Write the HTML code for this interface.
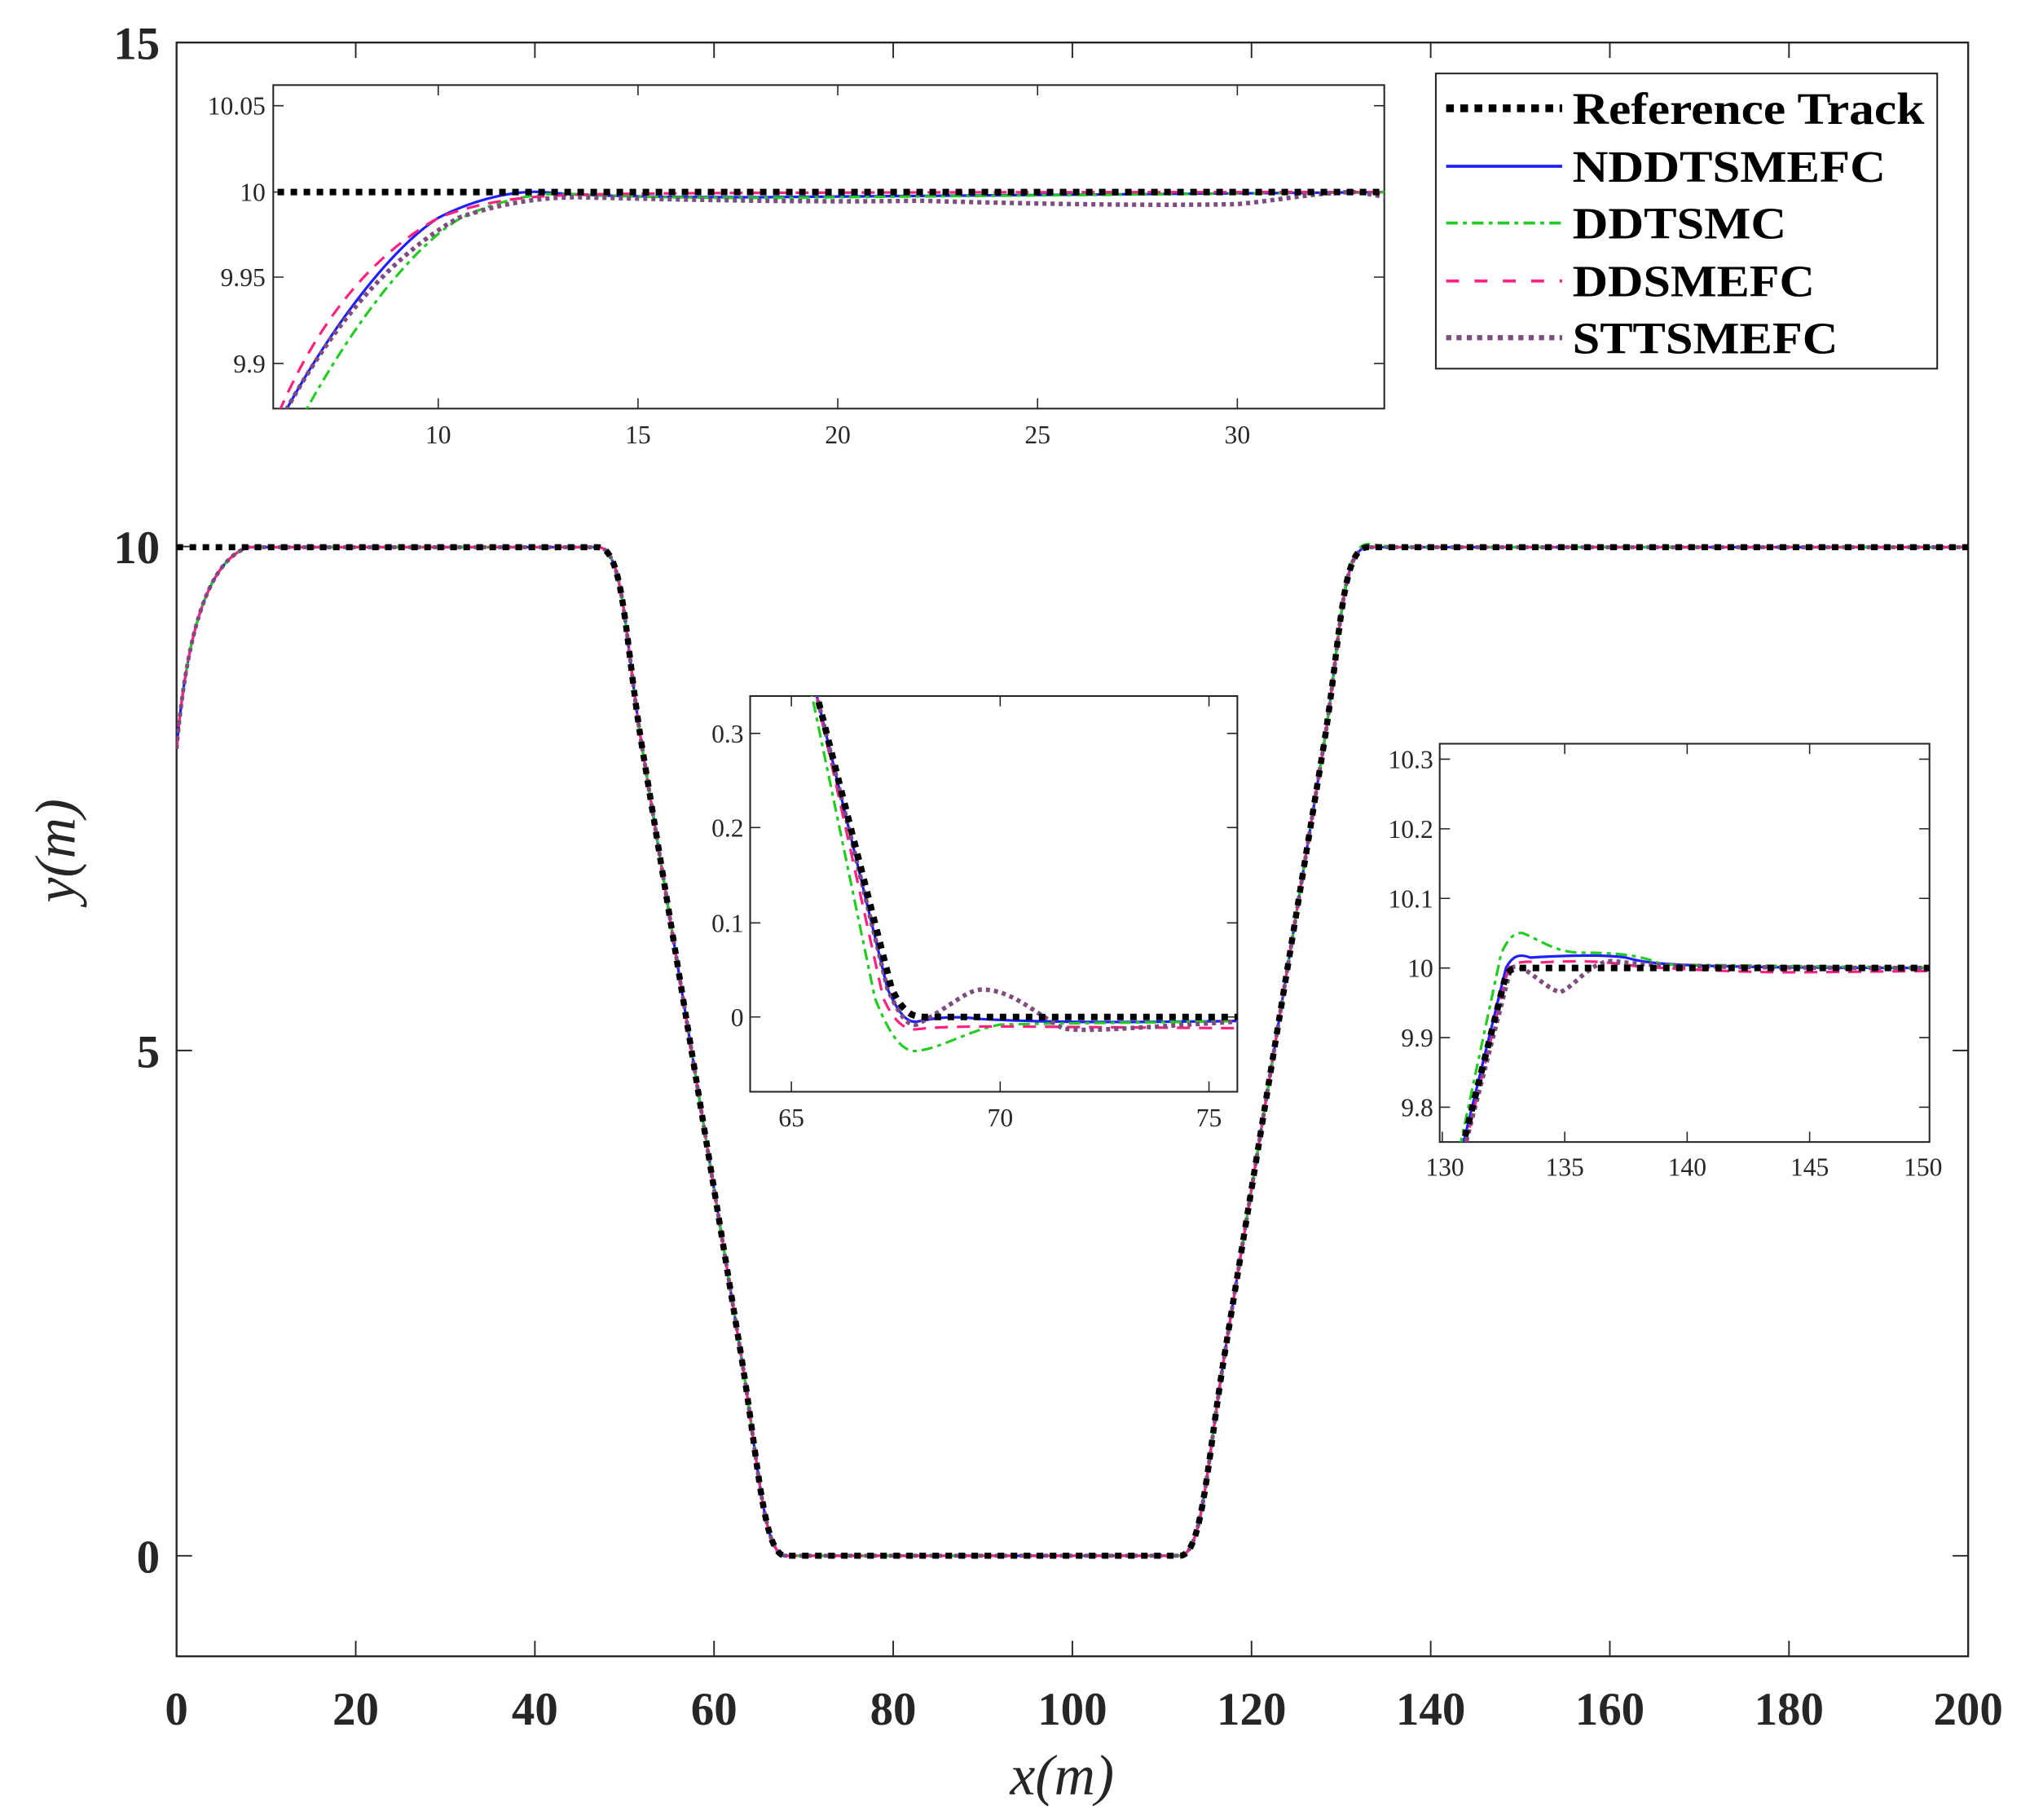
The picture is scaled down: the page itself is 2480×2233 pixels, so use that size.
<!DOCTYPE html>
<html><head><meta charset="utf-8"><style>
html,body{margin:0;padding:0;background:#fff;width:2480px;height:2233px;overflow:hidden}
svg{display:block}
text{font-family:"Liberation Serif",serif}
</style></head><body>
<svg width="2480" height="2233" viewBox="0 0 1568 1412" preserveAspectRatio="none">
<defs>
<clipPath id="cm"><rect x="137" y="33" width="1390" height="1252"/></clipPath>
<clipPath id="c1"><rect x="212" y="66" width="862" height="251"/></clipPath>
<clipPath id="c2"><rect x="582" y="540" width="378" height="307"/></clipPath>
<clipPath id="c3"><rect x="1117" y="577" width="380" height="309"/></clipPath>
</defs>
<rect width="1568" height="1412" fill="#fff"/>
<rect x="137" y="33" width="1390" height="1252" fill="none" stroke="#262626" stroke-width="1.5"/>
<g stroke="#262626" stroke-width="1.2">
<path d="M276 1285v-12M415 1285v-12M554 1285v-12M693 1285v-12M832 1285v-12M971 1285v-12M1110 1285v-12M1249 1285v-12M1388 1285v-12"/>
<path d="M276 33v12M415 33v12M554 33v12M693 33v12M832 33v12M971 33v12M1110 33v12M1249 33v12M1388 33v12"/>
<path d="M137 1207h12M137 815h12M137 424h12M1527 1207h-12M1527 815h-12M1527 424h-12"/>
</g>
<g font-size="36" font-weight="bold" fill="#262626" text-anchor="middle">
<text x="137" y="1338">0</text><text x="276" y="1338">20</text><text x="415" y="1338">40</text><text x="554" y="1338">60</text><text x="693" y="1338">80</text><text x="832" y="1338">100</text><text x="971" y="1338">120</text><text x="1110" y="1338">140</text><text x="1249" y="1338">160</text><text x="1388" y="1338">180</text><text x="1527" y="1338">200</text>
</g>
<g font-size="36" font-weight="bold" fill="#262626" text-anchor="end">
<text x="124" y="1220">0</text><text x="124" y="828">5</text><text x="124" y="437">10</text><text x="124" y="46">15</text>
</g>
<text x="824" y="1392" font-size="44" font-style="italic" fill="#262626" text-anchor="middle">x(m)</text>
<text transform="translate(58 660) rotate(-90)" font-size="44" font-style="italic" fill="#262626" text-anchor="middle">y(m)</text>

<g clip-path="url(#cm)" fill="none">
<g transform="matrix(6.95 0 0 -78.25 137 1207)">
<path vector-effect="non-scaling-stroke" stroke="#1f1fff" stroke-width="3.2" d="M0 8 C1 9 3 9.85 8 10 L47 10 C50 10 50 9.09 52 8 L63 2 C65 0.9 65.5 0 68 0 L112 0 C114.5 0 115 0.9 117 2 L128 8 C130 9.09 130 10 133 10 L200 10"/>
<path vector-effect="non-scaling-stroke" stroke="#22cc22" stroke-width="3.2" stroke-dasharray="14 6 5 6" d="M0 8 C1 9 3 9.85 8 10 L47 10 C50 10 50 9.09 52 8 L63 2 C65 0.9 65.5 0 68 0 L112 0 C114.5 0 115 0.9 117 2 L128 8 C130 9.09 130 10.03 133 10.03 L136 10 L200 10"/>
<path vector-effect="non-scaling-stroke" stroke="#ff2080" stroke-width="3.2" stroke-dasharray="16 11" d="M0 8 C1 9 3 9.85 8 10 L47 10 C50 10 50 9.09 52 8 L63 2 C65 0.9 65.5 0 68 0 L112 0 C114.5 0 115 0.9 117 2 L128 8 C130 9.09 130 10 133 10 L200 10"/>
<path vector-effect="non-scaling-stroke" stroke="#7d4d80" stroke-width="5" stroke-dasharray="5 5" d="M0 8 C1 9 3 9.85 8 10 L47 10 C50 10 50 9.09 52 8 L63 2 C65 0.9 65.5 0 68 0 L112 0 C114.5 0 115 0.9 117 2 L128 8 C130 9.09 130 10 133 10 L200 10"/>
<path vector-effect="non-scaling-stroke" stroke="#000" stroke-width="7.5" stroke-dasharray="8 8" d="M0 10 L47 10 C50 10 50 9.09 52 8 L63 2 C65 0.9 65.5 0 68 0 L112 0 C114.5 0 115 0.9 117 2 L128 8 C130 9.09 130 10 133 10 L200 10"/>
</g></g>

<rect x="212" y="66" width="862" height="251" fill="#fff" stroke="#262626" stroke-width="1.3"/>
<g stroke="#262626" stroke-width="1"><path d="M340 317v-8M495 317v-8M650 317v-8M805 317v-8M960 317v-8M340 66v8M495 66v8M650 66v8M805 66v8M960 66v8M212 82h8M212 149h8M212 215h8M212 282h8M1074 82h-8M1074 149h-8M1074 215h-8M1074 282h-8"/></g>
<g font-size="20" fill="#262626" text-anchor="middle"><text x="340" y="344">10</text><text x="495" y="344">15</text><text x="650" y="344">20</text><text x="805" y="344">25</text><text x="960" y="344">30</text></g>
<g font-size="20" fill="#262626" text-anchor="end"><text x="206" y="89">10.05</text><text x="206" y="156">10</text><text x="206" y="222">9.95</text><text x="206" y="289">9.9</text></g>
<g clip-path="url(#c1)" fill="none"><g transform="matrix(31 0 0 -1334 30 13489)">
<path vector-effect="non-scaling-stroke" stroke="#1f1fff" stroke-width="3.2" d="M6 9.865 C7.5 9.93 9 9.97 10 9.985 C11 9.997 12 10.001 12.6 10 C13.5 9.998 15 9.997 18 9.997 L34 10"/>
<path vector-effect="non-scaling-stroke" stroke="#22cc22" stroke-width="3.2" stroke-dasharray="14 6 5 6" d="M6.5 9.865 C8 9.93 9.5 9.97 10.5 9.984 C11.5 9.996 12.5 9.999 13 9.999 C15 9.997 17 9.996 20 9.997 L34 10"/>
<path vector-effect="non-scaling-stroke" stroke="#ff2080" stroke-width="3.2" stroke-dasharray="16 11" d="M5.8 9.86 C7 9.93 8.5 9.965 10 9.985 C11 9.994 12 9.997 13 9.998 C14 9.999 15 10 34 10"/>
<path vector-effect="non-scaling-stroke" stroke="#7d4d80" stroke-width="5.5" stroke-dasharray="5 5" d="M6 9.865 C7.5 9.93 9 9.965 10.5 9.985 C11.5 9.993 12.5 9.997 13.5 9.997 C17 9.995 20 9.994 22 9.995 C25 9.993 28 9.992 30 9.993 C31 9.995 32 10 33 10 L34 9.996"/>
<path vector-effect="non-scaling-stroke" stroke="#000" stroke-width="8" stroke-dasharray="8 8" d="M5 10 L34 10"/>
</g></g>

<rect x="582" y="540" width="378" height="307" fill="#fff" stroke="#262626" stroke-width="1.3"/>
<g stroke="#262626" stroke-width="1"><path d="M614 847v-8M776 847v-8M938 847v-8M614 540v8M776 540v8M938 540v8M582 569h8M582 642h8M582 716h8M582 789h8M960 569h-8M960 642h-8M960 716h-8M960 789h-8"/></g>
<g font-size="20" fill="#262626" text-anchor="middle"><text x="614" y="874">65</text><text x="776" y="874">70</text><text x="938" y="874">75</text></g>
<g font-size="20" fill="#262626" text-anchor="end"><text x="577" y="576">0.3</text><text x="577" y="649">0.2</text><text x="577" y="723">0.1</text><text x="577" y="796">0</text></g>
<g clip-path="url(#c2)" fill="none"><g transform="matrix(32.4 0 0 -733 -1492 789)">
<path vector-effect="non-scaling-stroke" stroke="#1f1fff" stroke-width="3.2" d="M65.5 0.36 L67.3 0.03 C67.6 0 67.8 -0.006 68 -0.005 C68.5 0 69 0.001 69.5 -0.002 C71 -0.006 73 -0.006 76 -0.004"/>
<path vector-effect="non-scaling-stroke" stroke="#22cc22" stroke-width="3.2" stroke-dasharray="14 6 5 6" d="M65.4 0.36 L67 0.02 C67.4 -0.025 67.7 -0.037 68 -0.036 C68.6 -0.033 69.2 -0.015 70 -0.008 C72 -0.006 74 -0.006 76 -0.004"/>
<path vector-effect="non-scaling-stroke" stroke="#ff2080" stroke-width="3.2" stroke-dasharray="16 11" d="M65.5 0.36 L67.2 0.02 C67.5 -0.01 67.8 -0.014 68 -0.013 C68.5 -0.01 69.5 -0.01 70 -0.01 L76 -0.012"/>
<path vector-effect="non-scaling-stroke" stroke="#7d4d80" stroke-width="5.5" stroke-dasharray="5 5" d="M65.5 0.36 L67.3 0.03 C67.6 0 67.8 -0.01 68 -0.008 C68.8 0.01 69.2 0.03 69.6 0.029 C70.3 0.028 70.8 0.005 71.5 -0.012 C72 -0.016 73 -0.012 76 -0.004"/>
<path vector-effect="non-scaling-stroke" stroke="#000" stroke-width="8" stroke-dasharray="8 8" d="M65.5 0.36 L67.4 0.03 C67.7 0.003 67.9 0 68.2 0 L76 0"/>
</g></g>

<rect x="1117" y="577" width="380" height="309" fill="#fff" stroke="#262626" stroke-width="1.3"/>
<g stroke="#262626" stroke-width="1"><path d="M1119 886v-8M1214 886v-8M1309 886v-8M1404 886v-8M1214 577v8M1309 577v8M1404 577v8M1117 589h8M1117 643h8M1117 697h8M1117 751h8M1117 805h8M1117 859h8M1497 589h-8M1497 643h-8M1497 697h-8M1497 751h-8M1497 805h-8M1497 859h-8"/></g>
<g font-size="20" fill="#262626" text-anchor="middle"><text x="1121" y="912">130</text><text x="1214" y="912">135</text><text x="1309" y="912">140</text><text x="1404" y="912">145</text><text x="1492" y="912">150</text></g>
<g font-size="20" fill="#262626" text-anchor="end"><text x="1112" y="596">10.3</text><text x="1112" y="650">10.2</text><text x="1112" y="704">10.1</text><text x="1112" y="758">10</text><text x="1112" y="812">9.9</text><text x="1112" y="866">9.8</text></g>
<g clip-path="url(#c3)" fill="none"><g transform="matrix(19 0 0 -540 -1351 6151)">
<path vector-effect="non-scaling-stroke" stroke="#1f1fff" stroke-width="3.2" d="M130.8 9.74 L132.6 10 C132.9 10.02 133.2 10.02 133.6 10.015 C135 10.018 136.5 10.02 137.5 10.015 C138.5 10.005 139.5 10 151 10"/>
<path vector-effect="non-scaling-stroke" stroke="#22cc22" stroke-width="3.2" stroke-dasharray="14 6 5 6" d="M130.7 9.74 L132.4 10.02 C132.7 10.045 133 10.052 133.3 10.05 C134 10.04 134.5 10.025 135.5 10.022 C137 10.022 138 10.02 139 10.005 L151 10"/>
<path vector-effect="non-scaling-stroke" stroke="#ff2080" stroke-width="3.2" stroke-dasharray="16 11" d="M130.9 9.74 L132.7 10 C133 10.01 133.5 10.01 134 10.008 C136 10.012 137 10.008 138 10.002 C141 9.996 143 9.993 145 9.994 L151 9.996"/>
<path vector-effect="non-scaling-stroke" stroke="#7d4d80" stroke-width="5.5" stroke-dasharray="5 5" d="M130.9 9.74 L132.8 10 C133.3 10.01 134 9.975 134.8 9.965 C135.5 9.975 136 10.01 137 10.01 C138 10.005 139 10 151 10"/>
<path vector-effect="non-scaling-stroke" stroke="#000" stroke-width="8" stroke-dasharray="8 8" d="M130.8 9.74 L132.6 9.99 C132.8 10 133 10 133.2 10 L151 10"/>
</g></g>

<rect x="1114" y="57" width="389" height="229" fill="#fff" stroke="#262626" stroke-width="1.3"/>
<path d="M1122 84H1212" stroke="#000" stroke-width="6" stroke-dasharray="6 5"/>
<path d="M1122 129H1212" stroke="#1f1fff" stroke-width="2.4"/>
<path d="M1122 173H1212" stroke="#22cc22" stroke-width="2.4" stroke-dasharray="9 4 3 4"/>
<path d="M1122 218H1212" stroke="#ff2080" stroke-width="2.4" stroke-dasharray="10 12"/>
<path d="M1122 262H1212" stroke="#7d4d80" stroke-width="4" stroke-dasharray="4 4"/>
<g font-size="35" font-weight="bold" fill="#000">
<text x="1220" y="96" textLength="273" lengthAdjust="spacingAndGlyphs">Reference Track</text>
<text x="1220" y="141" textLength="243" lengthAdjust="spacingAndGlyphs">NDDTSMEFC</text>
<text x="1220" y="185" textLength="166" lengthAdjust="spacingAndGlyphs">DDTSMC</text>
<text x="1220" y="230" textLength="188" lengthAdjust="spacingAndGlyphs">DDSMEFC</text>
<text x="1220" y="274" textLength="206" lengthAdjust="spacingAndGlyphs">STTSMEFC</text>
</g>
</svg>
</body></html>
